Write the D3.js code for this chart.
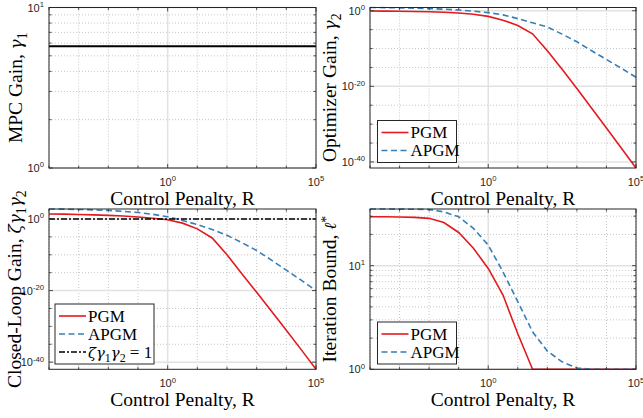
<!DOCTYPE html>
<html>
<head>
<meta charset="utf-8">
<script src="https://cdn.jsdelivr.net/npm/d3@7"></script>
<style>
body { margin:0; background:#fff }
text { font-family:"Liberation Sans", Arial, sans-serif; fill:#262626 }
.lab { font-family:"Liberation Serif", "Times New Roman", serif; fill:#000 }
.gr { font-family:"DejaVu Serif", serif }
</style>
</head>
<body>
<svg id="fig" width="643" height="418"></svg>
<script>
// control penalty R, as powers of ten (half decade steps)
var penaltyExp = [-4,-3.5,-3,-2.5,-2,-1.5,-1,-0.5,0,0.5,1,1.5,2,2.5,3,3.5,4,4.5,5]

// MPC gain gamma1
var gamma1 = [5.73,5.73,5.73,5.73,5.73,5.73,5.73,5.73,5.73,5.73,5.73,5.73,5.73,5.73,5.73,5.73,5.73,5.73,5.73]

// optimizer gain gamma2, log10 values
var gamma2PgmLog  = [-0.08,-0.1,-0.14,-0.2,-0.28,-0.42,-0.62,-0.95,-1.5,-2.5,-3.9,-6.1,-10.6,-15.5,-20.6,-25.8,-31,-36.3,-41.6]
var gamma2ApgmLog = [0.85,0.82,0.76,0.68,0.56,0.4,0.18,-0.12,-0.5,-1.1,-2.1,-3.2,-4.3,-6.2,-8.2,-10.6,-12.9,-15.2,-17.6]

// closed-loop gain zeta*gamma1*gamma2, log10 values
var closedPgmLog  = [1.4,1.36,1.28,1.17,1.03,0.85,0.57,0.22,-0.2,-1.15,-2.75,-5.3,-10,-15.3,-20.5,-25.8,-31.1,-36.5,-42]
var closedApgmLog = [2.8,2.76,2.68,2.56,2.4,2.15,1.82,1.32,0.62,-0.4,-1.55,-2.95,-4.55,-6.6,-8.8,-11.5,-14.3,-17.1,-20]

// iteration bound l*
var iterPgm  = [29.6,29.6,29.5,29.2,28.6,26.1,20.9,14.7,9.4,5.2,2.2,1,1,1,1,1,1,1,1]
var iterApgm = [35.2,35.2,35.1,35,34.8,33,29.6,22.9,15.8,8.7,4.5,2.3,1.5,1.18,1.03,1,1,1,1]

var xTickExp = [0, 5]
var RED = '#e41a1c', BLUE = '#377eb8'

var svg = d3.select('#fig')

function pts(vals, isLog) {
    return penaltyExp.map(function(e, i) {
        return [Math.pow(10, e), isLog ? Math.pow(10, vals[i]) : vals[i]]
    })
}

// text with italic / sub / sup / greek parts
function rich(t, parts, size, supShift) {
    var shift = 0
    parts.forEach(function(p) {
        var ts = t.append('tspan').text(p.t)
        var want = p.sub ? size*0.25 : p.sup ? -size*(supShift || 0.42) : 0
        if (want != shift) { ts.attr('dy', want - shift); shift = want }
        if (p.sub || p.sup) ts.style('font-size', (size*0.7) + 'px')
        if (p.it) ts.style('font-style', 'italic')
        if (p.gr) ts.attr('class', 'gr').style('font-size', (size*0.87) + 'px')
    })
}

function panel(o) {
    var g = svg.append('g').attr('transform', 'translate(' + o.x + ',' + o.y + ')')
    var x = d3.scaleLog().domain([1e-4, 1e5]).range([0, o.w])
    var y = d3.scaleLog().domain(o.yDomain).range([o.h, 0])

    var xDec = d3.range(-4, 6).map(function(e){ return Math.pow(10, e) })

    // minor grid
    g.selectAll('.gxm').data(xDec.filter(function(v){ return v != 1 })).enter().append('line')
        .attr('x1', function(d){ return x(d) }).attr('x2', function(d){ return x(d) })
        .attr('y1', 0).attr('y2', o.h)
        .attr('stroke', '#b8b8b8').attr('stroke-width', 0.8).attr('stroke-dasharray', '1,2')
    g.selectAll('.gym').data(o.yMinor).enter().append('line')
        .attr('y1', function(d){ return y(d) }).attr('y2', function(d){ return y(d) })
        .attr('x1', 0).attr('x2', o.w)
        .attr('stroke', '#b8b8b8').attr('stroke-width', 0.8).attr('stroke-dasharray', '1,2')
    // major grid
    g.append('line').attr('x1', x(1)).attr('x2', x(1)).attr('y1', 0).attr('y2', o.h)
        .attr('stroke', '#e2e2e2').attr('stroke-width', 1.5)
    g.selectAll('.gyM').data(o.yMajor).enter().append('line')
        .attr('y1', function(d){ return y(d) }).attr('y2', function(d){ return y(d) })
        .attr('x1', 0).attr('x2', o.w)
        .attr('stroke', '#e2e2e2').attr('stroke-width', 1.5)

    // data
    var clipId = 'clip' + o.id
    g.append('clipPath').attr('id', clipId).append('rect')
        .attr('x', -1).attr('y', -1).attr('width', o.w + 2).attr('height', o.h + 2)
    var line = d3.line().x(function(d){ return x(d[0]) }).y(function(d){ return y(d[1]) })
    o.series.forEach(function(s) {
        g.append('path').datum(s.data).attr('d', line)
            .attr('clip-path', 'url(#' + clipId + ')')
            .attr('fill', 'none').attr('stroke', s.color).attr('stroke-width', s.width || 1.6)
            .attr('stroke-dasharray', s.dash || null)
    })

    // ticks, inside, on all four sides
    var tk = g.append('g').attr('stroke', '#262626').attr('stroke-width', 0.8)
    xDec.forEach(function(v) {
        var len = (v == 1 || v == 1e5) ? 4 : 2.5
        tk.append('line').attr('x1', x(v)).attr('x2', x(v)).attr('y1', o.h).attr('y2', o.h - len)
        tk.append('line').attr('x1', x(v)).attr('x2', x(v)).attr('y1', 0).attr('y2', len)
    })
    o.yMajor.concat(o.yMinor).forEach(function(v, i) {
        var len = i < o.yMajor.length ? 4 : 2.5
        tk.append('line').attr('y1', y(v)).attr('y2', y(v)).attr('x1', 0).attr('x2', len)
        tk.append('line').attr('y1', y(v)).attr('y2', y(v)).attr('x1', o.w).attr('x2', o.w - len)
    })

    g.append('rect').attr('width', o.w).attr('height', o.h)
        .attr('fill', 'none').attr('stroke', '#262626').attr('stroke-width', 1)

    // tick labels
    xTickExp.forEach(function(e) {
        var t = g.append('text').attr('x', x(Math.pow(10, e))).attr('y', o.h + 18)
            .attr('text-anchor', 'middle').style('font-size', '11px')
        rich(t, [{t:'10'}, {t:String(e), sup:1}], 11)
    })
    o.yTickExp.forEach(function(e) {
        var t = g.append('text').attr('x', -5).attr('y', y(Math.pow(10, e)) + 4)
            .attr('text-anchor', 'end').style('font-size', '11px')
        rich(t, [{t:'10'}, {t:String(e), sup:1}], 11)
    })

    // axis labels
    g.append('text').attr('class', 'lab').attr('x', o.w / 2).attr('y', o.h + 37)
        .attr('text-anchor', 'middle').style('font-size', '19.5px').text('Control Penalty, R')
    var yl = g.append('text').attr('class', 'lab').attr('text-anchor', 'middle')
        .attr('transform', 'translate(' + o.yLabX + ',' + (o.h / 2) + ') rotate(-90)')
        .style('font-size', '19.5px')
    rich(yl, o.yLabel, 19.5, 0.28)

    // legend
    if (o.legend) {
        var lg = g.append('g').attr('transform', 'translate(' + o.legend.x + ',' + o.legend.y + ')')
        lg.append('rect').attr('width', o.legend.w).attr('height', o.legend.items.length * 18 + 6)
            .attr('fill', '#fff').attr('stroke', '#262626').attr('stroke-width', 1)
        o.legend.items.forEach(function(it, i) {
            var cy = 12 + i * 18
            lg.append('line').attr('x1', 4).attr('x2', 31).attr('y1', cy).attr('y2', cy)
                .attr('stroke', it.color).attr('stroke-width', 1.6).attr('stroke-dasharray', it.dash || null)
            var t = lg.append('text').attr('class', 'lab').attr('x', 33).attr('y', cy + 5.5)
                .style('font-size', '17px')
            rich(t, it.label, 17)
        })
    }
}

var majorDec = [1, 1e-20, 1e-40]
var minorDec = [-5,-10,-15,-25,-30,-35].map(function(e){ return Math.pow(10, e) })
var pgmItem  = {color:RED, label:[{t:'PGM'}]}
var apgmItem = {color:BLUE, dash:'6,3.5', label:[{t:'APGM'}]}
var zetaGG = [{t:'ζ', it:1, gr:1}, {t:'γ', it:1, gr:1}, {t:'1', sub:1}, {t:'γ', it:1, gr:1}, {t:'2', sub:1}]

panel({id:1, x:49, y:7.5, w:267, h:160.5, yDomain:[1, 10],
    yMajor:[1, 10], yMinor:[2,3,4,5,6,7,8,9], yTickExp:[0, 1], yLabX:-27,
    yLabel:[{t:'MPC Gain, '}, {t:'γ', it:1, gr:1}, {t:'1', sub:1}],
    series:[{data:pts(gamma1, false), color:'#000', width:2}]})

panel({id:2, x:370, y:7.5, w:266, h:160.5, yDomain:[Math.pow(10, -41.6), Math.pow(10, 0.85)],
    yMajor:majorDec, yMinor:minorDec, yTickExp:[0, -20, -40], yLabX:-34,
    yLabel:[{t:'Optimizer Gain, '}, {t:'γ', it:1, gr:1}, {t:'2', sub:1}],
    series:[{data:pts(gamma2PgmLog, true), color:RED},
            {data:pts(gamma2ApgmLog, true), color:BLUE, dash:'6,3.5'}],
    legend:{x:7.5, y:113, w:79, items:[pgmItem, apgmItem]}})

panel({id:3, x:49, y:209, w:267, h:160.3, yDomain:[Math.pow(10, -42), Math.pow(10, 2.8)],
    yMajor:majorDec, yMinor:minorDec, yTickExp:[0, -20, -40], yLabX:-28,
    yLabel:[{t:'Closed-Loop Gain, '}].concat(zetaGG),
    series:[{data:pts(closedPgmLog, true), color:RED},
            {data:pts(closedApgmLog, true), color:BLUE, dash:'6,3.5'},
            {data:[[1e-4, 1], [1e5, 1]], color:'#000', dash:'6,2,2,2'}],
    legend:{x:6, y:95, w:99, items:[pgmItem, apgmItem,
        {color:'#000', dash:'6,2,2,2', label:zetaGG.concat([{t:' = 1'}])}]}})

panel({id:4, x:370, y:209, w:266, h:160.3, yDomain:[1, 35.2],
    yMajor:[1, 10], yMinor:[2,3,4,5,6,7,8,9,20,30], yTickExp:[0, 1], yLabX:-34,
    yLabel:[{t:'Iteration Bound, '}, {t:'ℓ', it:1, gr:1}, {t:'*', sup:1}],
    series:[{data:pts(iterPgm, false), color:RED},
            {data:pts(iterApgm, false), color:BLUE, dash:'6,3.5'}],
    legend:{x:7.5, y:113, w:79, items:[pgmItem, apgmItem]}})
</script>
</body>
</html>
